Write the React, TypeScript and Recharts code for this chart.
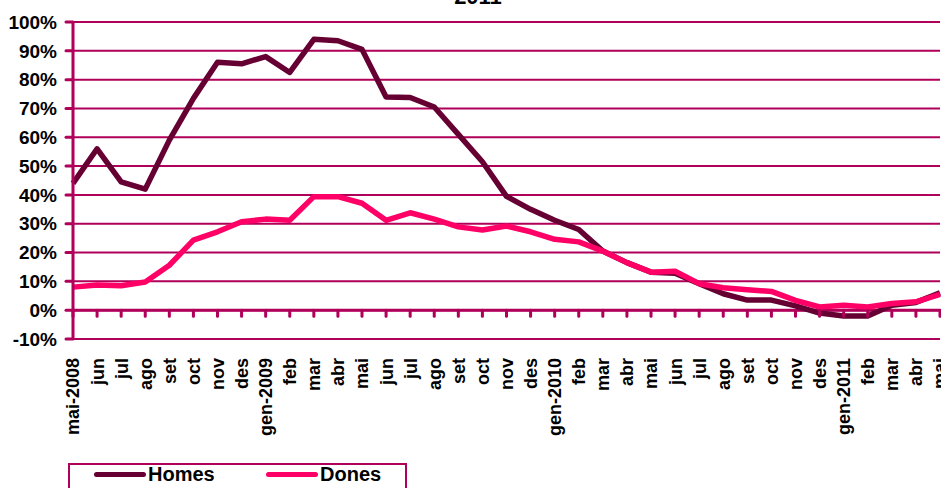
import React from 'react';
import { LineChart, Line, XAxis, YAxis, CartesianGrid } from 'recharts';

const months = ['mai-2008','jun','jul','ago','set','oct','nov','des','gen-2009','feb','mar','abr','mai','jun','jul','ago','set','oct','nov','des','gen-2010','feb','mar','abr','mai','jun','jul','ago','set','oct','nov','des','gen-2011','feb','mar','abr','mai'];
const homes = [44, 56, 44.5, 42, 59, 73.5, 86, 85.5, 88, 82.5, 94, 93.5, 90.5, 74, 73.8, 70.5, 61, 51.5, 39.5, 35, 31.2, 28, 20.5, 16.5, 13.2, 12.8, 9.2, 5.7, 3.5, 3.5, 1.5, -1, -2, -2, 1.7, 2.7, 6];
const dones = [8, 8.7, 8.5, 9.8, 15.6, 24.3, 27.2, 30.7, 31.6, 31.2, 39.4, 39.4, 37.1, 31.2, 33.8, 31.6, 28.9, 27.8, 29.2, 27.2, 24.6, 23.7, 20.5, 16.5, 13.2, 13.5, 9.2, 7.8, 7.1, 6.5, 3.4, 1.1, 1.7, 1.1, 2.3, 2.9, 5.5];
const yTicks = [-10, 0, 10, 20, 30, 40, 50, 60, 70, 80, 90, 100];
const seriesNames = ['Homes', 'Dones'];
const title = '2011';

const GRID = '#B0005A';
const HOMES_C = '#660033';
const DONES_C = '#FF0066';

const data = months.map((m, i) => ({ month: m, homes: homes[i], dones: dones[i], zero: 0 }));

const XTick = (props: any) => {
  const { x, y, payload } = props;
  const ty = y + 11;
  return (
    <text x={x} y={ty} transform={`rotate(-90 ${x} ${ty})`} textAnchor="end" dy="0.36em"
      fontSize={18} fontWeight="bold" fill="#000">{payload.value}</text>
  );
};

const ZeroTick = (props: any) => {
  const { cx, cy } = props;
  if (cx == null || cy == null) return null;
  return <line x1={cx} y1={cy} x2={cx} y2={cy + 6} stroke={GRID} strokeWidth={3} strokeLinecap="round" />;
};

export default function App() {
  return (
    <div style={{ position: 'absolute', left: 0, top: 0, width: 941, height: 488, overflow: 'hidden', background: '#fff', fontFamily: '"Liberation Sans", Arial, sans-serif' }}>
      <div style={{ position: 'absolute', left: 0, width: 956, top: -16, textAlign: 'center', fontSize: 22, fontWeight: 'bold', lineHeight: '26px' }}>{title}</div>
      <LineChart width={941} height={488} data={data} margin={{ top: 22, right: 1, left: 0, bottom: 0 }}>
        <CartesianGrid vertical={false} stroke={GRID} strokeWidth={2} />
        <XAxis dataKey="month" interval={0} tickLine={false} axisLine={false} height={149} tick={<XTick />} />
        <YAxis domain={[-10, 100]} ticks={yTicks} width={73} tickFormatter={(v: number) => `${v}%`}
          axisLine={{ stroke: GRID, strokeWidth: 3 }} tickLine={{ stroke: GRID, strokeWidth: 3, strokeLinecap: 'round' } as any}
          tickSize={7} tickMargin={9} tick={{ fontSize: 19, fontWeight: 'bold', fill: '#000' }} />
        <Line dataKey="zero" stroke={GRID} strokeWidth={3} dot={<ZeroTick />} activeDot={false} isAnimationActive={false} legendType="none" />
        <Line dataKey="homes" name={seriesNames[0]} stroke={HOMES_C} strokeWidth={5.5} dot={false} activeDot={false} strokeLinejoin="round" isAnimationActive={false} />
        <Line dataKey="dones" name={seriesNames[1]} stroke={DONES_C} strokeWidth={5.5} dot={false} activeDot={false} strokeLinejoin="round" isAnimationActive={false} />
      </LineChart>
      <div style={{ position: 'absolute', left: 68, top: 463, width: 335, height: 40, border: `2px solid ${GRID}` }}>
        <div style={{ position: 'absolute', left: 24, top: 7, width: 52, height: 5, borderRadius: 3, background: HOMES_C }} />
        <div style={{ position: 'absolute', left: 78, top: -3, fontSize: 20, fontWeight: 'bold', lineHeight: '24px' }}>{seriesNames[0]}</div>
        <div style={{ position: 'absolute', left: 196, top: 7, width: 52, height: 5, borderRadius: 3, background: DONES_C }} />
        <div style={{ position: 'absolute', left: 250, top: -3, fontSize: 20, fontWeight: 'bold', lineHeight: '24px' }}>{seriesNames[1]}</div>
      </div>
    </div>
  );
}
